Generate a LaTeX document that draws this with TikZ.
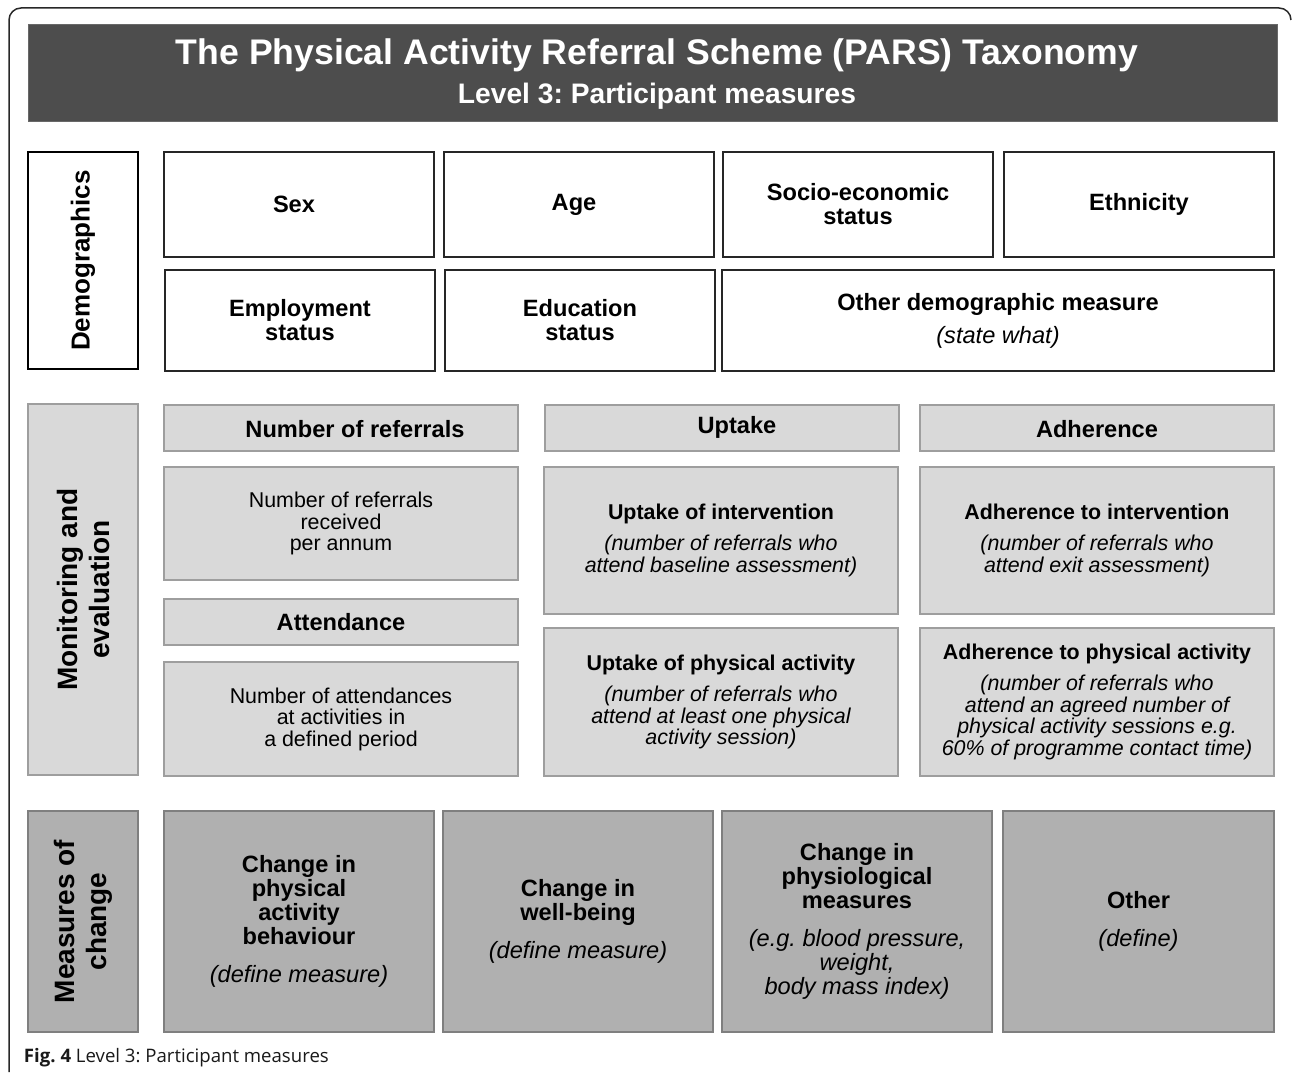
\documentclass[tikz,border=0pt]{standalone}
\usepackage{fontspec}
\setmainfont{Liberation Sans}
\newfontfamily\capfont{Open Sans}
\frenchspacing
\newcommand{\pfTitle}{\fontsize{17.8}{20}\selectfont}
\newcommand{\pfSub}{\fontsize{14.1}{16}\selectfont}
\newcommand{\pfBox}{\fontsize{11.8}{12}\selectfont}
\newcommand{\pfSmall}{\fontsize{10.7}{10.75}\selectfont}
\newcommand{\pfSide}{\fontsize{14}{16}\selectfont}
\definecolor{hdrgray}{RGB}{77,77,77}
\definecolor{lgray}{RGB}{217,217,217}
\definecolor{lline}{RGB}{158,158,158}
\definecolor{mgray}{RGB}{176,176,176}
\definecolor{mline}{RGB}{127,127,127}
\definecolor{frameline}{RGB}{40,40,40}
\tikzset{
  base/.style={inner sep=0pt, outer sep=0pt, align=center, anchor=center},
  hdrbox/.style={base, fill=hdrgray, draw=hdrgray!85!white, line width=0.5pt},
  hdrtext/.style={base, text=white, font=\bfseries},
  demoside/.style={base, fill=white, draw=black, line width=1pt, font=\fontsize{13}{15}\selectfont\bfseries},
  demobox/.style={base, fill=white, draw=black!85, line width=0.6pt, font=\pfBox\bfseries},
  monside/.style={base, fill=lgray, draw=lline, line width=1pt, font=\pfSide\bfseries},
  monhead/.style={base, fill=lgray, draw=lline, line width=1.3pt},
  monheadtext/.style={base, font=\pfBox\bfseries},
  monbox/.style={base, fill=lgray, draw=lline, line width=0.7pt, font=\pfSmall},
  chside/.style={base, fill=mgray, draw=mline, line width=1.2pt, font=\pfSide\bfseries},
  chbox/.style={base, fill=mgray, draw=mline, line width=1.2pt, font=\pfBox\bfseries},
}
\begin{document}
\begin{tikzpicture}[x=0.5pt,y=-0.5pt]
\useasboundingbox (0,0) rectangle (1292,1075);
% outer frame
\draw[frameline, line width=0.75pt, rounded corners=6pt] (9,1072) -- (9,8) -- (1291,8) -- (1291,20);
% header
\node[hdrbox, minimum width=624.5pt, minimum height=48.5pt] (hdr) at (652.5,73.5) {};
\node[hdrtext, font=\pfTitle\bfseries] (title) at (657,55) {The Physical Activity Referral Scheme (PARS) Taxonomy};
\node[hdrtext, font=\pfSub\bfseries] (subtitle) at (657,96) {Level 3: Participant measures};
% demographics
\node[demoside, rotate=90, minimum width=108.5pt, minimum height=55pt] (demo) at (83,260.5) {Demographics};
\node[demobox, minimum width=135pt, minimum height=52.5pt] (sex) at (299,204.5) {Sex\hspace*{5pt}};
\node[demobox, minimum width=135pt, minimum height=52.5pt] (age) at (579,204.5) {Age\hspace*{5pt}};
\node[demobox, minimum width=135pt, minimum height=52.5pt] (ses) at (858,204.5) {Socio-economic\\status};
\node[demobox, minimum width=135pt, minimum height=52.5pt] (eth) at (1139,204.5) {Ethnicity};
\node[demobox, minimum width=135pt, minimum height=50.5pt] (emp) at (300,320.5) {Employment\\status};
\node[demobox, minimum width=135pt, minimum height=50.5pt] (edu) at (580,320.5) {Education\\status};
\node[demobox, minimum width=276pt, minimum height=50.5pt] (oth) at (998,320.5) {Other demographic measure\\[4.5pt]{\mdseries\itshape (state what)}};
% monitoring and evaluation
\node[monside, rotate=90, minimum width=185.5pt, minimum height=55pt] (mon) at (83,589.5) {Monitoring and\\evaluation};
\node[monhead, minimum width=177pt, minimum height=23pt] (nrh) at (341,428) {};
\node[monheadtext] (nrht) at (355,429) {Number of referrals};
\node[monhead, minimum width=177pt, minimum height=23pt] (uph) at (722,428) {};
\node[monheadtext] (upht) at (737,427) {Uptake};
\node[monhead, minimum width=177pt, minimum height=23pt] (adh) at (1097,428) {};
\node[monheadtext] (adht) at (1097,429) {Adherence};
\node[monbox, minimum width=177pt, minimum height=56.5pt] (nrb) at (341,523.5) {Number of referrals\\received\\per annum};
\node[monhead, minimum width=177pt, minimum height=23pt] (ath) at (341,622) {};
\node[monheadtext] (atht) at (341,622) {Attendance};
\node[monbox, minimum width=177pt, minimum height=57pt] (atb) at (341,719) {Number of attendances\\at activities in\\a defined period};
\node[monbox, minimum width=177pt, minimum height=73.5pt] (upi) at (721,540.5) {\textbf{Uptake of intervention}\\[4.75pt]\itshape (number of referrals who\\\itshape attend baseline assessment)};
\node[monbox, minimum width=177pt, minimum height=74pt] (upp) at (721,702) {\textbf{Uptake of physical activity}\\[4.75pt]\itshape (number of referrals who\\\itshape attend at least one physical\\\itshape activity session)};
\node[monbox, minimum width=177pt, minimum height=73.5pt] (adi) at (1097,540.5) {\textbf{Adherence to intervention}\\[4.75pt]\itshape (number of referrals who\\\itshape attend exit assessment)};
\node[monbox, minimum width=177pt, minimum height=74pt] (adp) at (1097,702) {\textbf{Adherence to physical activity}\\[4.75pt]\itshape (number of referrals who\\\itshape attend an agreed number of\\\itshape physical activity sessions e.g.\\\itshape 60\% of programme contact time)};
% measures of change
\node[chside, rotate=90, minimum width=110.5pt, minimum height=55pt] (chg) at (83,921.5) {Measures of\\change};
\node[chbox, minimum width=135pt, minimum height=110.5pt] (cpa) at (299,921.5) {Change in\\physical\\activity\\behaviour\\[7pt]{\mdseries\itshape (define measure)}};
\node[chbox, minimum width=135pt, minimum height=110.5pt] (cwb) at (578,921.5) {Change in\\well-being\\[7pt]{\mdseries\itshape (define measure)}};
\node[chbox, minimum width=135pt, minimum height=110.5pt] (cph) at (857,921.5) {Change in\\physiological\\measures\\[7pt]{\mdseries\itshape (e.g. blood pressure,}\\{\mdseries\itshape weight,}\\{\mdseries\itshape body mass index)}};
\node[chbox, minimum width=135.5pt, minimum height=110.5pt] (coth) at (1138.5,921.5) {Other\\[7pt]{\mdseries\itshape (define)}};
% caption
\node[base, anchor=west, font=\capfont\fontsize{9.3}{11}\selectfont, text=black!90] (cap) at (24,1058) {\textbf{Fig. 4} Level 3: Participant measures};
\end{tikzpicture}
\end{document}
